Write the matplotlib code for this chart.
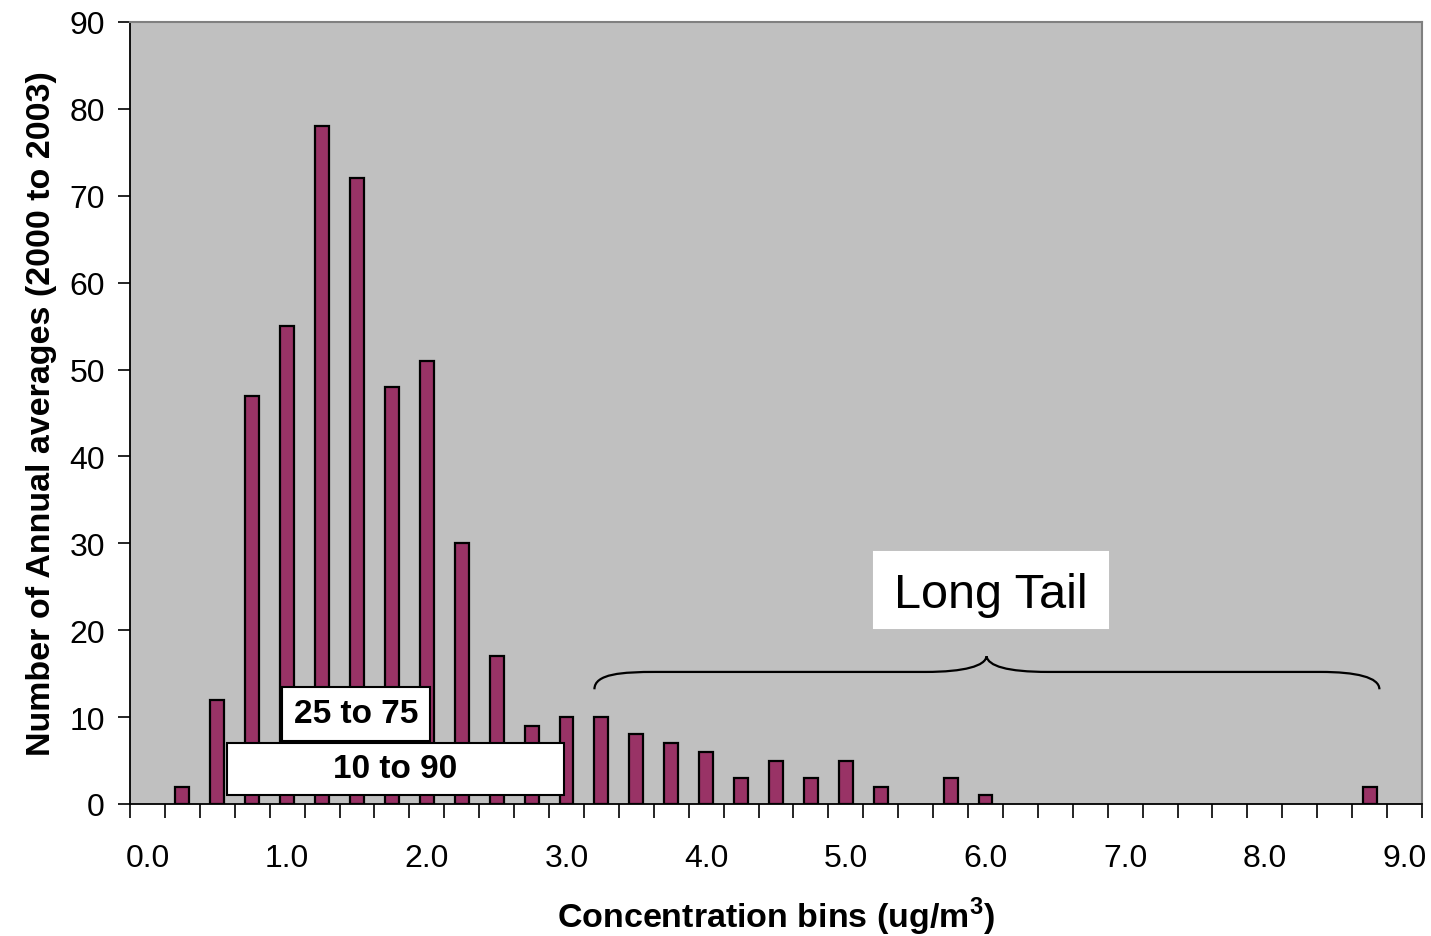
import numpy as np
import matplotlib
matplotlib.use("Agg")
import matplotlib.pyplot as plt
from matplotlib.patches import Rectangle, PathPatch
from matplotlib.path import Path

plt.rcParams['font.family'] = ['Liberation Sans', 'DejaVu Sans']

# Histogram bins (ug/m3) and number of annual averages in each bin
bins = [0.00, 0.25, 0.50, 0.75, 1.00, 1.25, 1.50, 1.75, 2.00, 2.25, 2.50, 2.75,
        3.00, 3.25, 3.50, 3.75, 4.00, 4.25, 4.50, 4.75, 5.00, 5.25, 5.50, 5.75,
        6.00, 6.25, 6.50, 6.75, 7.00, 7.25, 7.50, 7.75, 8.00, 8.25, 8.50, 8.75, 9.00]
counts = [0, 2, 12, 47, 55, 78, 72, 48, 51, 30, 17, 9,
          10, 10, 8, 7, 6, 3, 5, 3, 5, 2, 0, 3,
          1, 0, 0, 0, 0, 0, 0, 0, 0, 0, 0, 2, 0]
xtick_labels = ["0.0", "1.0", "2.0", "3.0", "4.0", "5.0", "6.0", "7.0", "8.0", "9.0"]

bins = np.array(bins)
counts = np.array(counts)
step = 0.25

fig = plt.figure(figsize=(14.31, 9.37), dpi=100)
ax = fig.add_axes([130 / 1431, 132 / 937, 1292 / 1431, 782 / 937])
ax.set_facecolor('#C0C0C0')

show = counts > 0
ax.bar(bins[show], counts[show], width=step * 0.4, color='#993366',
       edgecolor='black', linewidth=1.6, zorder=2)

ax.set_xlim(bins[0] - step / 2, bins[-1] + step / 2)
ax.set_ylim(0, 90)

# Axis ticks: labelled every 1.0, tick marks at the bin boundaries
ax.set_xticks(np.arange(0, 10, 1.0))
ax.set_xticklabels(xtick_labels)
ax.set_xticks(np.append(bins - step / 2, bins[-1] + step / 2), minor=True)
ax.tick_params(axis='x', which='major', length=0, pad=28, labelsize=23)
ax.tick_params(axis='x', which='minor', length=10, width=1.2, direction='out', color='black')
ax.set_yticks(np.arange(0, 91, 10))
ax.tick_params(axis='y', which='major', length=9, width=1.2, direction='out', pad=9, labelsize=23)

for side in ('left', 'bottom'):
    ax.spines[side].set_color('black')
    ax.spines[side].set_linewidth(1.3)
for side in ('top', 'right'):
    ax.spines[side].set_color('#808080')
    ax.spines[side].set_linewidth(1.5)

ax.set_xlabel('Concentration bins (ug/m$^\\mathregular{3}$)', fontsize=24.5, fontweight='bold', labelpad=16)
ax.set_ylabel('Number of Annual averages (2000 to 2003)', fontsize=24.5, fontweight='bold', labelpad=9)


def labelled_box(x0, x1, y0, y1, text, size, weight, edge, valign):
    ax.add_patch(Rectangle((x0, y0), x1 - x0, y1 - y0, facecolor='white',
                           edgecolor=edge, linewidth=1.5, zorder=4))
    ax.text((x0 + x1) / 2, (y0 + y1) / 2, text, fontsize=size, fontweight=weight,
            ha='center', va=valign, zorder=5)


# Percentile ranges
labelled_box(0.964, 2.02, 7.25, 13.47, '25 to 75', 24, 'bold', 'black', 'center')
labelled_box(0.571, 2.98, 1.04, 7.02, '10 to 90', 24, 'bold', 'black', 'center')
# Tail label
labelled_box(5.20, 6.88, 20.26, 29.0, 'Long Tail', 35, 'normal', 'white', 'center_baseline')

# Curly brace spanning the tail
verts = [(3.20, 13.2),
         (3.20, 15.0), (3.40, 15.2), (3.64, 15.2),
         (5.57, 15.2),
         (5.85, 15.2), (6.00, 15.9), (6.007, 17.0),
         (6.02, 15.9), (6.15, 15.2), (6.45, 15.2),
         (8.40, 15.2),
         (8.65, 15.2), (8.82, 14.6), (8.82, 13.2)]
codes = [Path.MOVETO,
         Path.CURVE4, Path.CURVE4, Path.CURVE4,
         Path.LINETO,
         Path.CURVE4, Path.CURVE4, Path.CURVE4,
         Path.CURVE4, Path.CURVE4, Path.CURVE4,
         Path.LINETO,
         Path.CURVE4, Path.CURVE4, Path.CURVE4]
ax.add_patch(PathPatch(Path(verts, codes), facecolor='none', edgecolor='black',
                       linewidth=1.6, zorder=3))

fig.savefig('out.png', dpi=100)
